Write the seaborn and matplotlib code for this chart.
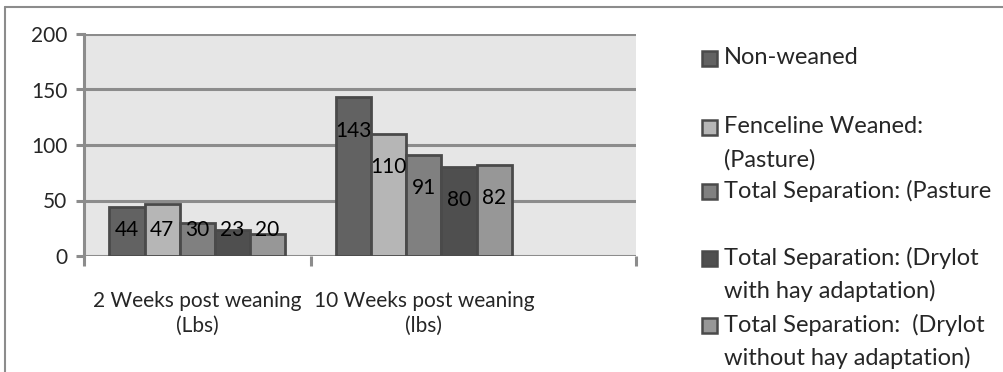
import numpy as np
import pandas as pd
import matplotlib.pyplot as plt
import seaborn as sns
from matplotlib.patches import Rectangle
from matplotlib.lines import Line2D

# Datos del gráfico
categories = ["2 Weeks post weaning\n(Lbs)", "10 Weeks post weaning\n(lbs)"]
series = ["Non-weaned",
          "Fenceline Weaned:\n(Pasture)",
          "Total Separation: (Pasture",
          "Total Separation: (Drylot\nwith hay adaptation)",
          "Total Separation:  (Drylot\nwithout hay adaptation)"]
week2 = [44, 47, 30, 23, 20]
week10 = [143, 110, 91, 80, 82]
colors = ["#626262", "#b6b6b6", "#808080", "#4f4f4f", "#979797"]

rows = []
for s, a, b in zip(series, week2, week10):
    rows.append({"cat": categories[0], "serie": s, "valor": a})
    rows.append({"cat": categories[1], "serie": s, "valor": b})
data = pd.DataFrame(rows)

sns.set_style("white")
plt.rcParams['font.family'] = ['Lato', 'DejaVu Sans']
grid_col = "#8c8c8c"

fig = plt.figure(figsize=(10.04, 3.72), dpi=100)
ax = fig.add_axes([84 / 1004, 1 - 256 / 372, (636 - 84) / 1004, (256 - 34) / 372])
ax.set_facecolor("#e6e6e6")

sns.barplot(data=data, x="cat", y="valor", hue="serie", order=categories,
            hue_order=series, palette=colors, width=0.775, saturation=1,
            edgecolor="#4a4a4a", linewidth=2, legend=False, ax=ax)

ax.set_ylim(0, 200)
ax.set_xlim(-0.5, 1.936)
ax.set_yticks([0, 50, 100, 150, 200])
ax.set_axisbelow(True)
ax.grid(axis="y", color=grid_col, linewidth=2.2)
ax.grid(axis="x", visible=False)
for side in ["top", "right", "bottom"]:
    ax.spines[side].set_visible(False)
ax.spines["left"].set_color(grid_col)
ax.spines["left"].set_linewidth(2.2)

ax.tick_params(axis="y", direction="out", length=6, width=2.2, color=grid_col,
               labelsize=15, pad=6, left=True)
ax.tick_params(axis="x", which="major", length=0, labelsize=15, pad=25)
for t in ax.get_xticklabels():
    t.set_linespacing(1.35)
ax.set_xticks([-0.5, 0.5, 1.936], minor=True)
ax.tick_params(axis="x", which="minor", direction="out", length=7, width=2.2,
               color=grid_col, bottom=True)
ax.set_xlabel("")
ax.set_ylabel("")

# Etiquetas de datos
for cont in ax.containers:
    for bar in cont:
        h = bar.get_height()
        x = bar.get_x() + bar.get_width() / 2
        ax.text(x, max(h - 30, 23), f"{h:.0f}", ha="center", va="center",
                fontsize=15, color="black")

# Leyenda manual
leg_y = [58, 127, 191, 258, 325]
for lab, c, yp in zip(series, colors, leg_y):
    fig.add_artist(Rectangle((702 / 1004, 1 - (yp + 8) / 372), 15 / 1004, 15 / 372,
                             facecolor=c, edgecolor="#4a4a4a", linewidth=1.8,
                             transform=fig.transFigure))
    for i, line in enumerate(lab.split("\n")):
        fig.text(724 / 1004, 1 - (yp + 33 * i) / 372, line, ha="left",
                 va="center", fontsize=17)

# Marco exterior
fig.add_artist(Line2D([5 / 1004, 1], [1 - 7 / 372] * 2, color=grid_col, lw=1.5,
                      transform=fig.transFigure))
fig.add_artist(Line2D([5 / 1004] * 2, [0, 1 - 7 / 372], color=grid_col, lw=1.5,
                      transform=fig.transFigure))

fig.savefig("out.png", dpi=100)
